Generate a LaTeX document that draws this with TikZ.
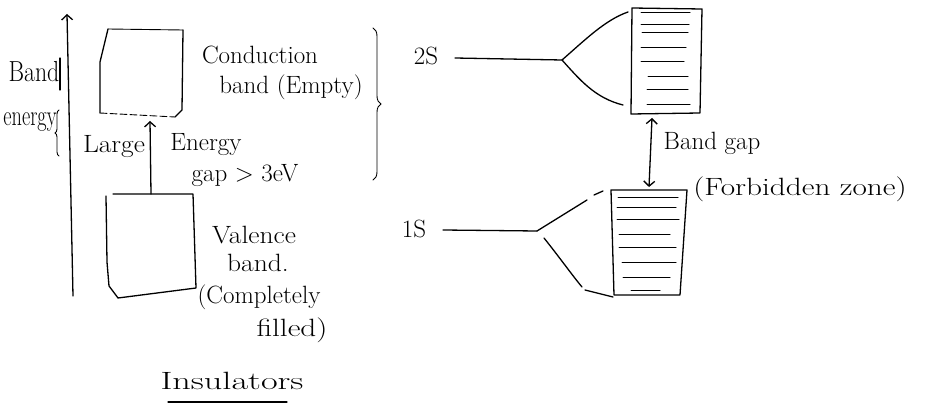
\documentclass[tikz,border=0pt]{standalone}
\usepackage{fontspec}
\usetikzlibrary{arrows.meta,decorations.pathreplacing}
\begin{document}
\begin{tikzpicture}[x=1pt,y=-1pt,
  pen/.style={line width=1.3pt, line cap=round, line join=round},
  fine/.style={line width=0.9pt, line cap=round},
  hatch/.style={line width=1pt, line cap=round},
  hand/.style={font=\fontsize{25}{27}\selectfont, inner sep=0pt},
  axishand/.style={font=\fontsize{29}{31}\selectfont, inner sep=0pt},
  barb/.style={-{Straight Barb[length=5pt,width=11pt]}},
  twobarb/.style={{Straight Barb[length=5pt,width=11pt]}-{Straight Barb[length=5pt,width=11pt]}}]
\useasboundingbox (0,0) rectangle (935,406);

% ---------- energy axis ----------
\coordinate (axb) at (73,296);
\coordinate (axt) at (67,14);
\draw[pen, barb] (axb) -- (axt);
\node[axishand, xscale=0.82] (lband) at (34,72) {Band};
\node[axishand, xscale=0.7] (lenergy) at (30,122) {energy};
\draw[pen] (60,58) -- (60,90);
\draw[fine, decorate, decoration={brace, amplitude=4pt}] (59,156) -- (59,110);

% ---------- conduction band ----------
\coordinate (c1) at (108,29);
\coordinate (c2) at (183,30);
\coordinate (c3) at (182,110);
\coordinate (c4) at (175,117);
\coordinate (c5) at (100,113);
\draw[fine] (c1) -- (c2);
\draw[pen] (c1) -- (100,62) -- (c5);
\draw[pen] (c2) -- (c3) -- (c4);
\draw[fine, dash pattern=on 7pt off 3pt] (c5) -- (c4);
\node[hand] (tcond) at (260,55) {Conduction};
\node[hand] (tcond2) at (291,87) {band (Empty)};
\draw[fine, decorate, decoration={brace, amplitude=8pt}] (373,28) -- (373,180);

% ---------- energy gap ----------
\coordinate (gtop) at (150,121);
\coordinate (gbot) at (151,194);
\draw[pen, barb] (gbot) -- (gtop);
\node[hand, xscale=1.1] (tlarge) at (114,147) {Large};
\node[hand] (tenergy) at (206,145) {Energy};
\node[hand] (tgap) at (245,176) {gap $>$ 3eV};

% ---------- valence band ----------
\coordinate (v1) at (113,194);
\coordinate (v2) at (193,194);
\coordinate (v3) at (196,288);
\coordinate (v4) at (118,298);
\coordinate (v5) at (109,286);
\coordinate (v6) at (106,196);
\draw[pen] (v1) -- (v2) -- (v3) -- (v4) -- (v5) -- (107,262) -- (v6);
\node[hand, xscale=1.1] (tval) at (254,235) {Valence};
\node[hand, xscale=1.1] (tval2) at (258,263) {band.};
\node[hand] (tval3) at (259,297) {(Completely};
\node[hand, xscale=1.25] (tval4) at (292,330) {filled)};

% ---------- title ----------
\node[hand, xscale=1.45] (title) at (232,381) {Insulators};
\coordinate (ul1) at (168,402);
\coordinate (ul2) at (287,402);
\draw[pen] (ul1) -- (ul2);

% ---------- 2S level and band ----------
\node[hand] (l2s) at (426,56) {2S};
\coordinate (f2) at (562,60);
\draw[pen] (455,58) -- (f2);
\draw[pen] (f2) .. controls (585,40) and (605,20) .. (628,12);
\draw[pen] (f2) .. controls (580,80) and (595,98) .. (623,105);
\coordinate (b2a) at (632,8);
\coordinate (b2b) at (702,9);
\coordinate (b2c) at (700,113);
\coordinate (b2d) at (631,114);
\draw[pen] (b2a) -- (b2b) -- (b2c) -- (b2d) -- cycle;
\foreach \y/\xa/\xb in {13/641/690, 25/641/689, 33/642/688, 48/641/686,
                       62/641/684, 77/648/688, 90/647/688, 105/647/690}
  \draw[hatch] (\xa,\y) -- (\xb,\y);

% ---------- band gap ----------
\coordinate (bgt) at (652,118);
\coordinate (bgb) at (649,187);
\draw[pen, twobarb] (bgb) -- (bgt);
\node[hand] (tbg) at (712,143) {Band gap};
\node[hand, xscale=1.25] (tbg2) at (800,189) {(Forbidden zone)};

% ---------- 1S level and band ----------
\node[hand] (l1s) at (414,229) {1S};
\coordinate (f1) at (537,231);
\draw[pen] (443,230) -- (f1);
\draw[pen] (f1) -- (587,200);
\draw[pen] (594,195) -- (603,191);
\draw[pen] (544,238) .. controls (560,258) and (572,275) .. (582,287);
\draw[pen] (585,290) -- (613,297);
\coordinate (b1a) at (611,190);
\coordinate (b1b) at (687,190);
\coordinate (b1c) at (680,295);
\coordinate (b1d) at (614,295);
\draw[pen] (b1a) -- (b1b) -- (b1c) -- (b1d) -- cycle;
\foreach \y/\xa/\xb in {198/618/678, 208/617/676, 220/617/679, 235/619/670,
                       248/619/676, 263/622/676, 278/623/670, 291/631/660}
  \draw[hatch] (\xa,\y) -- (\xb,\y);
\end{tikzpicture}
\end{document}
